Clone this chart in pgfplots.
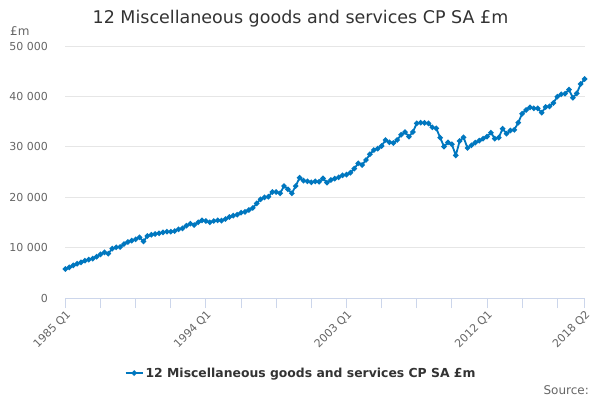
\documentclass[border=0pt]{standalone}
\usepackage{fontspec}
\setmainfont{DejaVu Sans}
\usepackage{pgfplots}
\pgfplotsset{compat=1.18}
\definecolor{linec}{HTML}{0077BF}
\definecolor{gridc}{HTML}{E6E6E6}
\definecolor{axisc}{HTML}{CCD6EB}
\definecolor{labc}{HTML}{666666}
\definecolor{titc}{HTML}{333333}
\begin{document}
\begin{tikzpicture}[x=1pt,y=1pt]
\path[use as bounding box, fill=white] (0,0) rectangle (600,400);
\begin{axis}[
 at={(65.4pt,102pt)}, anchor=south west,
 scale only axis, width=519.2pt, height=252pt,
 xmin=0, xmax=133, ymin=0, ymax=50000,
 axis x line*=bottom, axis y line*=left,
 y axis line style={draw=none},
 x axis line style={draw=axisc, line width=1pt},
 xtick={0,36,72,108,133},
 xticklabels={1985 Q1,1994 Q1,2003 Q1,2012 Q1,2018 Q2},
 minor xtick={9,18,27,45,54,63,81,90,99,117,126},
 tick align=outside,
 major tick length=10pt, minor tick length=10pt,
 xtick style={draw=axisc, line width=1pt},
 minor x tick style={draw=axisc, line width=1pt},
 ytick={0,10000,20000,30000,40000,50000},
 yticklabels={0,10 000,20 000,30 000,40 000,50 000},
 ytick style={draw=none},
 scaled y ticks=false,
 ymajorgrids, grid style={draw=gridc, line width=1pt},
 tick label style={font=\fontsize{11}{13}\selectfont, text=labc},
 x tick label style={rotate=45, anchor=north east, inner sep=1pt},
 y tick label style={xshift=-4pt},
 clip=false,
 legend style={draw=none, fill=none, at={(0.454,-0.298)}, anchor=center,
   font=\bfseries\fontsize{12.4}{14}\selectfont, text=titc},
]
\addplot[color=linec, line width=1.8pt, mark=*, mark size=1.7pt] table[x=i,y=v] {
i v
0 5750
1 6080
2 6480
3 6810
4 7080
5 7410
6 7610
7 7800
8 8200
9 8660
10 9060
11 8800
12 9790
13 10050
14 10120
15 10710
16 11110
17 11380
18 11640
19 12040
20 11240
21 12300
22 12550
23 12700
24 12830
25 13030
26 13160
27 13160
28 13290
29 13620
30 13820
31 14350
32 14750
33 14480
34 15010
35 15410
36 15280
37 15010
38 15280
39 15410
40 15350
41 15670
42 16070
43 16340
44 16540
45 16930
46 17100
47 17460
48 17860
49 18780
50 19580
51 19970
52 20100
53 21030
54 21030
55 20770
56 22220
57 21560
58 20770
59 22220
60 23870
61 23280
62 23150
63 22950
64 23150
65 23080
66 23740
67 22880
68 23410
69 23670
70 23940
71 24340
72 24470
73 24870
74 25660
75 26720
76 26390
77 27380
78 28510
79 29360
80 29630
81 30160
82 31350
83 30890
84 30750
85 31350
86 32400
87 32930
88 32010
89 32930
90 34650
91 34790
92 34750
93 34650
94 33860
95 33660
96 31810
97 30030
98 30880
99 30490
100 28310
101 31150
102 31880
103 29760
104 30290
105 30820
106 31220
107 31620
108 32010
109 32800
110 31620
111 31810
112 33600
113 32600
114 33230
115 33370
116 34800
117 36570
118 37300
119 37830
120 37630
121 37630
122 36770
123 37890
124 38030
125 38690
126 39940
127 40410
128 40540
129 41330
130 39740
131 40610
132 42460
133 43450
};
\addlegendentry{12 Miscellaneous goods and services CP SA £m}
\end{axis}
\node[anchor=base, inner sep=0, font=\fontsize{17.5}{20}\selectfont, text=titc] at (300.5,376) {12 Miscellaneous goods and services CP SA £m};
\node[anchor=base west, inner sep=0, font=\fontsize{12}{14}\selectfont, text=labc] at (10,364) {£m};
\node[anchor=base east, inner sep=0, font=\fontsize{12}{14}\selectfont, text=labc] at (589,6) {Source:};
\end{tikzpicture}
\end{document}
